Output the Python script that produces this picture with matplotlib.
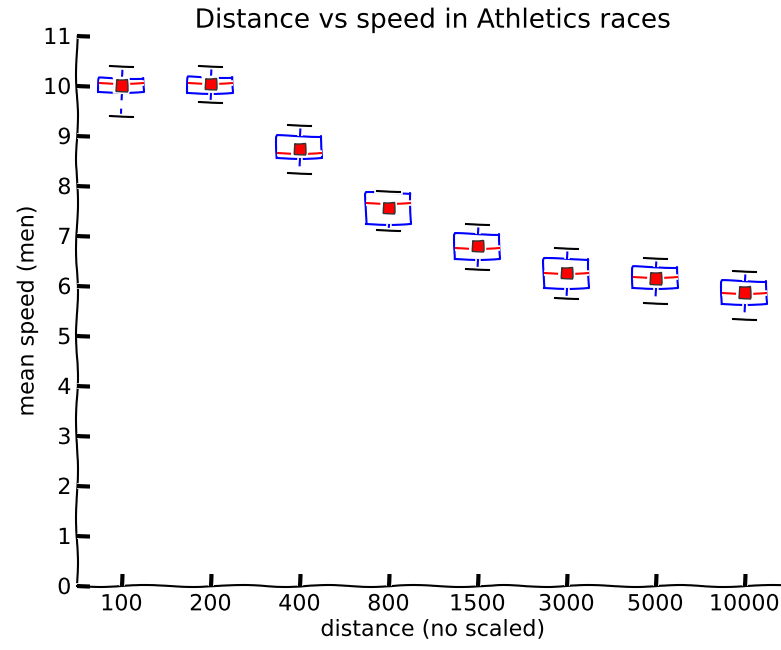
import matplotlib
matplotlib.use("Agg")
import matplotlib.pyplot as plt

# distances (categories) and box statistics (m/s)
distances = ["100", "200", "400", "800", "1500", "3000", "5000", "10000"]
whis_lo = [9.41, 9.68, 8.27, 7.12, 6.34, 5.76, 5.67, 5.35]
q1 = [9.89, 9.87, 8.55, 7.25, 6.55, 5.97, 5.97, 5.64]
median = [10.05, 10.05, 8.67, 7.67, 6.77, 6.27, 6.18, 5.86]
mean = [10.02, 10.05, 8.75, 7.57, 6.81, 6.27, 6.16, 5.88]
q3 = [10.17, 10.19, 9.01, 7.87, 7.04, 6.54, 6.39, 6.11]
whis_hi = [10.41, 10.40, 9.22, 7.90, 7.25, 6.77, 6.57, 6.31]

stats = []
for i, name in enumerate(distances):
    stats.append({
        'label': name,
        'whislo': whis_lo[i],
        'q1': q1[i],
        'med': median[i],
        'mean': mean[i],
        'q3': q3[i],
        'whishi': whis_hi[i],
        'fliers': [],
    })

with plt.xkcd():
    plt.rcParams['font.family'] = ['DejaVu Sans']
    fig = plt.figure(figsize=(7.81, 6.5), dpi=100)
    ax = fig.add_axes([77 / 781, 64 / 650, 712 / 781, 550 / 650])

    ax.bxp(stats, widths=0.5, showmeans=True,
           boxprops=dict(color='blue', linewidth=1.5),
           whiskerprops=dict(color='blue', linewidth=1.5, linestyle=(0, (4, 4))),
           capprops=dict(color='black', linewidth=1.5),
           medianprops=dict(color='red', linewidth=1.5),
           meanprops=dict(marker='s', markerfacecolor='red',
                          markeredgecolor='#333333', markersize=8))

    ax.set_ylim(0, 11)
    ax.set_xlim(0.5, 8.5)
    ax.set_yticks(range(0, 12))
    ax.spines['top'].set_visible(False)
    ax.spines['right'].set_visible(False)
    # draw spines below the ticks so the white halo doesn't cut them
    ax.spines['left'].set_zorder(1)
    ax.spines['bottom'].set_zorder(1)
    ax.xaxis.set_ticks_position('bottom')
    ax.yaxis.set_ticks_position('left')
    ax.tick_params(direction='in', length=9, width=3, labelsize=16)
    ax.tick_params(axis='x', pad=6)
    ax.tick_params(axis='y', pad=4)

    ax.set_title("Distance vs speed in Athletics races", fontsize=19)
    ax.set_xlabel("distance (no scaled)", fontsize=16)
    ax.set_ylabel("mean speed (men)", fontsize=16)

    fig.savefig("out.png", dpi=100)
